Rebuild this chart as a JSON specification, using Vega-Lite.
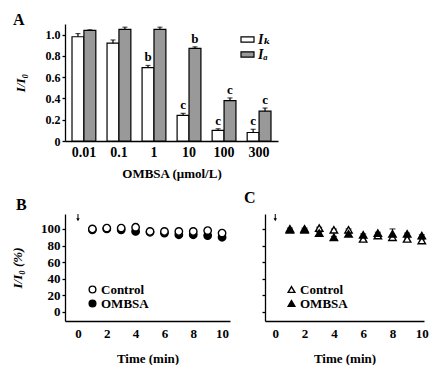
{
  "$schema": "https://vega.github.io/schema/vega-lite/v6.json",
  "padding": {"left": 11, "top": 12, "right": 0, "bottom": 0},
  "bounds": "flush",
  "config": {
    "font": "Liberation Serif",
    "view": {"stroke": null},
    "axis": {
      "grid": false,
      "domainColor": "black",
      "domainWidth": 1.3,
      "tickColor": "black",
      "tickWidth": 1.3,
      "tickSize": 3,
      "labelColor": "black",
      "labelFont": "Liberation Serif",
      "labelFontWeight": "bold",
      "labelOverlap": false,
      "titleFont": "Liberation Serif",
      "titleFontWeight": "bold",
      "titleColor": "black"
    },
    "legend": {
      "labelFont": "Liberation Serif, DejaVu Serif",
      "labelFontWeight": "bold",
      "labelColor": "black"
    },
    "title": {"font": "Liberation Serif", "fontWeight": "bold", "fontSize": 16, "color": "black", "anchor": "start", "frame": "group"}
  },
  "datasets": {
    "bars": [
      {"conc": "0.01", "type": "IK", "v": 0.98, "hi": 1.01, "sig": ""},
      {"conc": "0.01", "type": "IA", "v": 1.04, "hi": 1.045, "sig": ""},
      {"conc": "0.1", "type": "IK", "v": 0.92, "hi": 0.95, "sig": ""},
      {"conc": "0.1", "type": "IA", "v": 1.05, "hi": 1.07, "sig": ""},
      {"conc": "1", "type": "IK", "v": 0.69, "hi": 0.71, "sig": "b"},
      {"conc": "1", "type": "IA", "v": 1.05, "hi": 1.07, "sig": ""},
      {"conc": "10", "type": "IK", "v": 0.24, "hi": 0.26, "sig": "c"},
      {"conc": "10", "type": "IA", "v": 0.87, "hi": 0.885, "sig": "b"},
      {"conc": "100", "type": "IK", "v": 0.10, "hi": 0.115, "sig": "c"},
      {"conc": "100", "type": "IA", "v": 0.38, "hi": 0.405, "sig": "c"},
      {"conc": "300", "type": "IK", "v": 0.08, "hi": 0.11, "sig": "c"},
      {"conc": "300", "type": "IA", "v": 0.28, "hi": 0.31, "sig": "c"}
    ],
    "timeB": [
      {"t": 1, "g": "OMBSA", "v": 99, "lo": 99, "hi": 99},
      {"t": 2, "g": "OMBSA", "v": 100, "lo": 100, "hi": 100},
      {"t": 3, "g": "OMBSA", "v": 99, "lo": 98, "hi": 100},
      {"t": 4, "g": "OMBSA", "v": 97, "lo": 95, "hi": 99},
      {"t": 5, "g": "OMBSA", "v": 96, "lo": 95, "hi": 97},
      {"t": 6, "g": "OMBSA", "v": 95, "lo": 94, "hi": 96},
      {"t": 7, "g": "OMBSA", "v": 93, "lo": 92, "hi": 94},
      {"t": 8, "g": "OMBSA", "v": 93, "lo": 92, "hi": 94},
      {"t": 9, "g": "OMBSA", "v": 92, "lo": 90, "hi": 94},
      {"t": 10, "g": "OMBSA", "v": 90, "lo": 89, "hi": 91},
      {"t": 1, "g": "Control", "v": 100, "lo": 99, "hi": 101},
      {"t": 2, "g": "Control", "v": 101, "lo": 100, "hi": 102},
      {"t": 3, "g": "Control", "v": 101, "lo": 100, "hi": 102},
      {"t": 4, "g": "Control", "v": 102, "lo": 100, "hi": 105},
      {"t": 5, "g": "Control", "v": 97, "lo": 96, "hi": 98},
      {"t": 6, "g": "Control", "v": 97, "lo": 96, "hi": 98},
      {"t": 7, "g": "Control", "v": 97, "lo": 96, "hi": 98},
      {"t": 8, "g": "Control", "v": 97, "lo": 96, "hi": 98},
      {"t": 9, "g": "Control", "v": 98, "lo": 96, "hi": 101},
      {"t": 10, "g": "Control", "v": 95, "lo": 94, "hi": 96}
    ],
    "timeC": [
      {"t": 1, "g": "Control", "v": 100, "lo": 99, "hi": 101},
      {"t": 2, "g": "Control", "v": 100, "lo": 99, "hi": 101},
      {"t": 3, "g": "Control", "v": 101, "lo": 100, "hi": 102},
      {"t": 4, "g": "Control", "v": 99, "lo": 98, "hi": 100},
      {"t": 5, "g": "Control", "v": 99, "lo": 98, "hi": 100},
      {"t": 6, "g": "Control", "v": 88, "lo": 87, "hi": 89},
      {"t": 7, "g": "Control", "v": 92, "lo": 91, "hi": 93},
      {"t": 8, "g": "Control", "v": 90, "lo": 89, "hi": 91},
      {"t": 9, "g": "Control", "v": 88, "lo": 87, "hi": 89},
      {"t": 10, "g": "Control", "v": 86, "lo": 85, "hi": 87},
      {"t": 1, "g": "OMBSA", "v": 99, "lo": 99, "hi": 99},
      {"t": 2, "g": "OMBSA", "v": 99, "lo": 99, "hi": 99},
      {"t": 3, "g": "OMBSA", "v": 95, "lo": 94, "hi": 96},
      {"t": 4, "g": "OMBSA", "v": 90, "lo": 89, "hi": 91},
      {"t": 5, "g": "OMBSA", "v": 94, "lo": 93, "hi": 95},
      {"t": 6, "g": "OMBSA", "v": 93, "lo": 92, "hi": 94},
      {"t": 7, "g": "OMBSA", "v": 95, "lo": 94, "hi": 96},
      {"t": 8, "g": "OMBSA", "v": 94, "lo": 90, "hi": 100},
      {"t": 9, "g": "OMBSA", "v": 94, "lo": 93, "hi": 95},
      {"t": 10, "g": "OMBSA", "v": 92, "lo": 91, "hi": 93}
    ],
    "arrow": [{"t": 0, "top": 118, "tip": 111}]
  },
  "spacing": 73,
  "vconcat": [
    {
      "width": 213,
      "height": 117,
      "title": {"text": "A", "dx": -52, "offset": -4},
      "data": {"name": "bars"},
      "encoding": {
        "x": {
          "field": "conc", "type": "nominal", "sort": null,
          "scale": {"paddingInner": 0.32, "paddingOuter": 0.2},
          "axis": {"title": "OMBSA (μmol/L)", "labelAngle": 0, "ticks": false, "labelFontSize": 14, "titleFontSize": 13, "labelPadding": 4, "titlePadding": 8}
        },
        "xOffset": {"field": "type", "sort": ["IK", "IA"], "scale": {"paddingInner": 0, "paddingOuter": 0}}
      },
      "layer": [
        {
          "mark": {"type": "bar", "stroke": "black", "strokeWidth": 1.2},
          "encoding": {
            "y": {
              "field": "v", "type": "quantitative",
              "scale": {"domain": [0, 1.1], "nice": false},
              "axis": {"values": [0, 0.2, 0.4, 0.6, 0.8, 1.0], "labelOverlap": false, "labelExpr": "datum.value == 0 ? '0' : format(datum.value, '.1f')", "labelFontSize": 12, "title": "I/I₀", "titleFontStyle": "italic", "titleFontSize": 13, "titlePadding": 18}
            },
            "fill": {
              "field": "type", "type": "nominal",
              "scale": {"domain": ["IK", "IA"], "range": ["white", "#999999"]},
              "legend": {"orient": "none", "legendX": 175, "legendY": 8, "title": null, "symbolType": "M-1,-0.4H1V0.4H-1Z", "symbolSize": 169, "symbolStrokeColor": "black", "symbolStrokeWidth": 1.2, "labelFontSize": 14, "labelFontStyle": "italic", "labelExpr": "datum.value == 'IK' ? 'Iₖ' : 'Iₐ'", "rowPadding": -6, "labelOffset": 3}
            }
          }
        },
        {
          "mark": {"type": "rule", "strokeWidth": 1.2, "color": "black"},
          "encoding": {
            "y": {"field": "v", "type": "quantitative", "axis": {"values": [0, 0.2, 0.4, 0.6, 0.8, 1.0], "labelOverlap": false, "labelExpr": "datum.value == 0 ? '0' : format(datum.value, '.1f')", "labelFontSize": 12, "title": "I/I₀", "titleFontStyle": "italic", "titleFontSize": 13, "titlePadding": 18}},
            "y2": {"field": "hi"}
          }
        },
        {
          "mark": {"type": "tick", "orient": "horizontal", "size": 5, "thickness": 1.2, "color": "black"},
          "encoding": {"y": {"field": "hi", "type": "quantitative", "axis": {"values": [0, 0.2, 0.4, 0.6, 0.8, 1.0], "labelOverlap": false, "labelExpr": "datum.value == 0 ? '0' : format(datum.value, '.1f')", "labelFontSize": 12, "title": "I/I₀", "titleFontStyle": "italic", "titleFontSize": 13, "titlePadding": 18}}}
        },
        {
          "transform": [{"filter": "datum.sig != ''"}],
          "mark": {"type": "text", "baseline": "bottom", "dy": -1, "fontSize": 13, "fontWeight": "bold", "color": "black"},
          "encoding": {"y": {"field": "hi", "type": "quantitative", "axis": {"values": [0, 0.2, 0.4, 0.6, 0.8, 1.0], "labelOverlap": false, "labelExpr": "datum.value == 0 ? '0' : format(datum.value, '.1f')", "labelFontSize": 12, "title": "I/I₀", "titleFontStyle": "italic", "titleFontSize": 13, "titlePadding": 18}}, "text": {"field": "sig"}}
        }
      ]
    },
    {
      "spacing": 35,
      "bounds": "flush",
      "resolve": {"scale": {"fill": "independent", "shape": "independent", "x": "independent", "y": "independent"}, "legend": {"fill": "independent", "shape": "independent"}},
      "hconcat": [
        {
          "width": 165,
          "height": 107,
          "title": {"text": "B", "dx": -49, "offset": 1},
          "data": {"name": "timeB"},
          "encoding": {
            "x": {"field": "t", "type": "quantitative", "scale": {"domain": [-0.9, 10.55], "nice": false}, "axis": {"values": [0, 2, 4, 6, 8, 10], "labelOverlap": false, "ticks": false, "labelFontSize": 13, "title": "Time (min)", "titleFontSize": 13, "labelPadding": 6, "titlePadding": 12}},
            "y": {"field": "v", "type": "quantitative", "scale": {"domain": [-11, 118], "nice": false}, "axis": {"values": [0, 20, 40, 60, 80, 100], "labelOverlap": false, "labelFontSize": 13, "title": "I/I₀ (%)", "titleFontStyle": "italic", "titleFontSize": 13, "titlePadding": 16}}
          },
          "layer": [
            {
              "mark": {"type": "rule", "strokeWidth": 1.2, "color": "black"},
              "encoding": {
                "y": {"field": "lo", "type": "quantitative", "axis": {"values": [0, 20, 40, 60, 80, 100], "labelOverlap": false, "labelFontSize": 13, "title": "I/I₀ (%)", "titleFontStyle": "italic", "titleFontSize": 13, "titlePadding": 16}},
                "y2": {"field": "hi"}
              }
            },
            {
              "mark": {"type": "tick", "orient": "horizontal", "size": 6, "thickness": 1.2, "color": "black"},
              "encoding": {"y": {"field": "hi", "type": "quantitative", "axis": {"values": [0, 20, 40, 60, 80, 100], "labelOverlap": false, "labelFontSize": 13, "title": "I/I₀ (%)", "titleFontStyle": "italic", "titleFontSize": 13, "titlePadding": 16}}}
            },
            {
              "mark": {"type": "point", "filled": true, "size": 55, "stroke": "black", "strokeWidth": 1.4, "opacity": 1},
              "encoding": {
                "fill": {"field": "g", "type": "nominal", "scale": {"domain": ["Control", "OMBSA"], "range": ["white", "black"]}, "legend": {"orient": "none", "legendX": 21, "legendY": 69, "title": null, "labelFontSize": 13, "symbolSize": 45, "symbolStrokeWidth": 1.4, "rowPadding": -2, "labelOffset": 2, "encode": {"symbols": {"update": {"stroke": {"value": "black"}, "strokeWidth": {"value": 1.4}}}}}},
                "shape": {"field": "g", "type": "nominal", "scale": {"domain": ["Control", "OMBSA"], "range": ["circle", "circle"]}, "legend": {"orient": "none", "legendX": 21, "legendY": 69, "title": null, "labelFontSize": 13, "symbolSize": 45, "symbolStrokeWidth": 1.4, "rowPadding": -2, "labelOffset": 2, "encode": {"symbols": {"update": {"stroke": {"value": "black"}, "strokeWidth": {"value": 1.4}}}}}}
              }
            },
            {
              "data": {"name": "arrow"},
              "mark": {"type": "rule", "strokeWidth": 1, "color": "black"},
              "encoding": {"y": {"field": "top", "type": "quantitative", "axis": {"values": [0, 20, 40, 60, 80, 100], "labelOverlap": false, "labelFontSize": 13, "title": "I/I₀ (%)", "titleFontStyle": "italic", "titleFontSize": 13, "titlePadding": 16}}, "y2": {"field": "tip"}}
            },
            {
              "data": {"name": "arrow"},
              "mark": {"type": "point", "shape": "triangle-down", "filled": true, "size": 12, "color": "black", "opacity": 1},
              "encoding": {"y": {"field": "tip", "type": "quantitative", "axis": {"values": [0, 20, 40, 60, 80, 100], "labelOverlap": false, "labelFontSize": 13, "title": "I/I₀ (%)", "titleFontStyle": "italic", "titleFontSize": 13, "titlePadding": 16}}}
            }
          ]
        },
        {
          "width": 159,
          "height": 107,
          "title": {"text": "C", "dx": -21, "offset": 8},
          "data": {"name": "timeC"},
          "encoding": {
            "x": {"field": "t", "type": "quantitative", "scale": {"domain": [-0.7, 10.15], "nice": false}, "axis": {"values": [0, 2, 4, 6, 8, 10], "labelOverlap": false, "ticks": false, "labelFontSize": 13, "title": "Time (min)", "titleFontSize": 13, "labelPadding": 6, "titlePadding": 12}},
            "y": {"field": "v", "type": "quantitative", "scale": {"domain": [-11, 118], "nice": false}, "axis": {"values": [0, 20, 40, 60, 80, 100], "labels": false, "title": null}}
          },
          "layer": [
            {
              "mark": {"type": "rule", "strokeWidth": 1.2, "color": "black"},
              "encoding": {
                "y": {"field": "lo", "type": "quantitative", "axis": {"values": [0, 20, 40, 60, 80, 100], "labels": false, "title": null}},
                "y2": {"field": "hi"}
              }
            },
            {
              "mark": {"type": "tick", "orient": "horizontal", "size": 6, "thickness": 1.2, "color": "black"},
              "encoding": {"y": {"field": "hi", "type": "quantitative", "axis": {"values": [0, 20, 40, 60, 80, 100], "labels": false, "title": null}}}
            },
            {
              "mark": {"type": "point", "filled": true, "size": 55, "stroke": "black", "strokeWidth": 1.4, "opacity": 1},
              "encoding": {
                "fill": {"field": "g", "type": "nominal", "scale": {"domain": ["Control", "OMBSA"], "range": ["white", "black"]}, "legend": {"orient": "none", "legendX": 20, "legendY": 69, "title": null, "labelFontSize": 13, "symbolSize": 45, "symbolStrokeWidth": 1.4, "rowPadding": -2, "labelOffset": 2, "encode": {"symbols": {"update": {"stroke": {"value": "black"}, "strokeWidth": {"value": 1.4}}}}}},
                "shape": {"field": "g", "type": "nominal", "scale": {"domain": ["Control", "OMBSA"], "range": ["triangle-up", "triangle-up"]}, "legend": {"orient": "none", "legendX": 20, "legendY": 69, "title": null, "labelFontSize": 13, "symbolSize": 45, "symbolStrokeWidth": 1.4, "rowPadding": -2, "labelOffset": 2, "encode": {"symbols": {"update": {"stroke": {"value": "black"}, "strokeWidth": {"value": 1.4}}}}}}
              }
            },
            {
              "data": {"name": "arrow"},
              "mark": {"type": "rule", "strokeWidth": 1, "color": "black"},
              "encoding": {"y": {"field": "top", "type": "quantitative", "axis": {"values": [0, 20, 40, 60, 80, 100], "labels": false, "title": null}}, "y2": {"field": "tip"}}
            },
            {
              "data": {"name": "arrow"},
              "mark": {"type": "point", "shape": "triangle-down", "filled": true, "size": 12, "color": "black", "opacity": 1},
              "encoding": {"y": {"field": "tip", "type": "quantitative", "axis": {"values": [0, 20, 40, 60, 80, 100], "labels": false, "title": null}}}
            }
          ]
        }
      ]
    }
  ],
  "resolve": {"scale": {"fill": "independent", "shape": "independent", "x": "independent", "y": "independent"}, "legend": {"fill": "independent", "shape": "independent"}}
}
